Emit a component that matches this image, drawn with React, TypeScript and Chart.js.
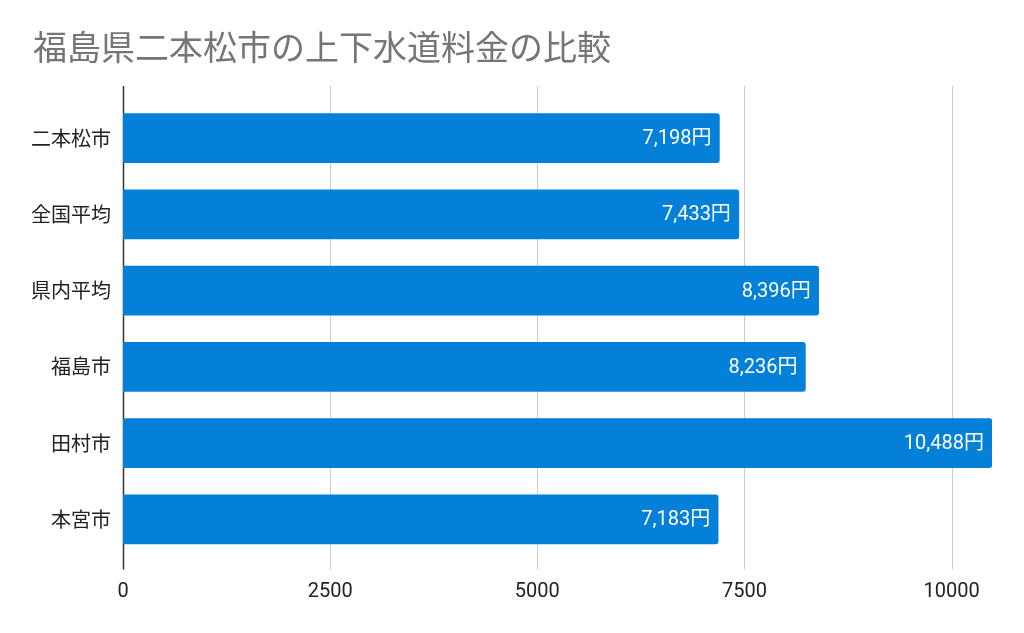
import React, { useEffect, useRef } from "react";
import { Chart, registerables } from "chart.js";

Chart.register(...registerables);

const titleText = "福島県二本松市の上下水道料金の比較";
const categories = ["二本松市", "全国平均", "県内平均", "福島市", "田村市", "本宮市"];
const charges = [7198, 7433, 8396, 8236, 10488, 7183];
const xTicks = [0, 2500, 5000, 7500, 10000];

const BAR_COLOR = "#0580d9";
const TEXT_COLOR = "#222222";
const GRID_COLOR = "#cccccc";
const LABEL_FONT = '20px Roboto, "Noto Sans CJK JP", sans-serif';

// Title drawn at the top-left of the canvas
const titlePlugin = {
  id: "sheetTitle",
  afterDraw(chart: any) {
    const ctx = chart.ctx;
    ctx.save();
    ctx.font = '34px Roboto, "Noto Sans CJK JP", sans-serif';
    ctx.fillStyle = "#757575";
    ctx.textAlign = "left";
    ctx.textBaseline = "middle";
    ctx.fillText(titleText, 33, 51);
    ctx.restore();
  },
};

// Vertical grid lines and the zero axis, extended a little past the bars
const gridPlugin = {
  id: "extendedGrid",
  beforeDatasetsDraw(chart: any) {
    const { ctx, chartArea, scales } = chart;
    const top = chartArea.top - 14;
    const bottom = chartArea.bottom + 12;
    ctx.save();
    xTicks.forEach((v) => {
      const x = Math.round(scales.x.getPixelForValue(v)) + 0.5;
      ctx.beginPath();
      ctx.strokeStyle = v === 0 ? "#333333" : GRID_COLOR;
      ctx.lineWidth = v === 0 ? 1.5 : 1;
      ctx.moveTo(x, top);
      ctx.lineTo(x, bottom);
      ctx.stroke();
    });
    ctx.restore();
  },
};

// Value labels inside the end of each bar
const valueLabelPlugin = {
  id: "valueLabels",
  afterDatasetsDraw(chart: any) {
    const ctx = chart.ctx;
    const meta = chart.getDatasetMeta(0);
    ctx.save();
    ctx.font = LABEL_FONT;
    ctx.fillStyle = "#ffffff";
    ctx.textAlign = "right";
    ctx.textBaseline = "middle";
    meta.data.forEach((bar: any, i: number) => {
      const text = charges[i].toLocaleString("en-US") + "円";
      ctx.fillText(text, bar.x - 8, bar.y + 1);
    });
    ctx.restore();
  },
};

export default function App() {
  const canvasRef = useRef<HTMLCanvasElement | null>(null);

  useEffect(() => {
    if (!canvasRef.current) return;
    const chart = new Chart(canvasRef.current, {
      type: "bar",
      data: {
        labels: categories,
        datasets: [
          {
            data: charges,
            backgroundColor: BAR_COLOR,
            borderRadius: 3,
            barThickness: 49,
          },
        ],
      },
      options: {
        indexAxis: "y",
        animation: false,
        responsive: false,
        maintainAspectRatio: false,
        layout: { padding: { top: 100, right: 32, bottom: 0, left: 0 } },
        plugins: {
          legend: { display: false },
          title: { display: false },
          tooltip: { enabled: false },
        },
        scales: {
          x: {
            type: "linear",
            min: 0,
            max: 10488,
            grid: { display: false, drawTicks: false },
            border: { display: false },
            afterBuildTicks(scale: any) {
              scale.ticks = xTicks.map((v) => ({ value: v }));
            },
            afterFit(scale: any) {
              scale.height = 75.5;
            },
            ticks: {
              color: TEXT_COLOR,
              font: { family: 'Roboto, "Noto Sans CJK JP", sans-serif', size: 20 },
              padding: 22,
              maxRotation: 0,
              callback: (v: any) => String(v),
            },
          },
          y: {
            grid: { display: false, drawTicks: false },
            border: { display: false },
            afterFit(scale: any) {
              scale.width = 123;
            },
            ticks: {
              color: TEXT_COLOR,
              font: { family: '"Noto Sans CJK JP", sans-serif', size: 20 },
              padding: 12,
            },
          },
        },
      },
      plugins: [gridPlugin, valueLabelPlugin, titlePlugin],
    });
    return () => chart.destroy();
  }, []);

  return (
    <div style={{ position: "fixed", left: 0, top: 0, width: 1024, height: 633, background: "#ffffff" }}>
      <canvas ref={canvasRef} width={1024} height={633} style={{ display: "block" }} />
    </div>
  );
}
